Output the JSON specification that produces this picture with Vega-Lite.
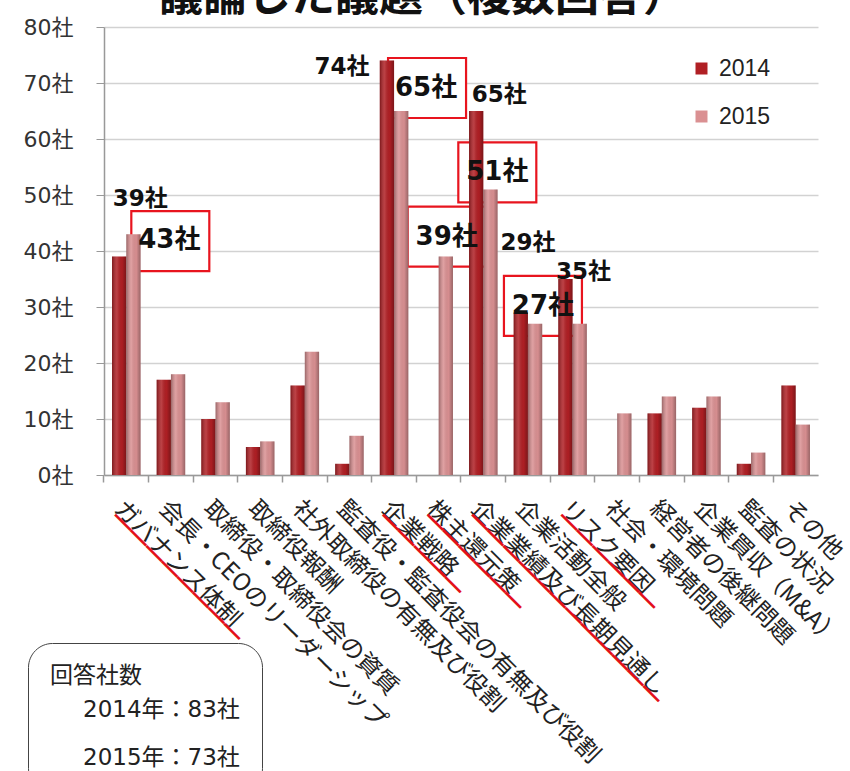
{
  "$schema": "https://vega.github.io/schema/vega-lite/v6.json",
  "autosize": "none",
  "width": 714,
  "height": 448,
  "padding": {"left": 104, "top": 27, "right": 32, "bottom": 296},
  "background": "white",
  "title": {"text": "議論した議題（複数回答）", "fontSize": 44, "font": "Noto Sans CJK JP", "fontWeight": "bold", "color": "#111", "anchor": "middle", "dx": -38, "offset": -4},
  "data": {"values": [
    {"topic": "ガバナンス体制", "year": "2014", "count": 39},
    {"topic": "ガバナンス体制", "year": "2015", "count": 43},
    {"topic": "会長・CEOのリーダーシップ", "year": "2014", "count": 17},
    {"topic": "会長・CEOのリーダーシップ", "year": "2015", "count": 18},
    {"topic": "取締役・取締役会の資質", "year": "2014", "count": 10},
    {"topic": "取締役・取締役会の資質", "year": "2015", "count": 13},
    {"topic": "取締役報酬", "year": "2014", "count": 5},
    {"topic": "取締役報酬", "year": "2015", "count": 6},
    {"topic": "社外取締役の有無及び役割", "year": "2014", "count": 16},
    {"topic": "社外取締役の有無及び役割", "year": "2015", "count": 22},
    {"topic": "監査役・監査役会の有無及び役割", "year": "2014", "count": 2},
    {"topic": "監査役・監査役会の有無及び役割", "year": "2015", "count": 7},
    {"topic": "企業戦略", "year": "2014", "count": 74},
    {"topic": "企業戦略", "year": "2015", "count": 65},
    {"topic": "株主還元策", "year": "2014", "count": null},
    {"topic": "株主還元策", "year": "2015", "count": 39},
    {"topic": "企業業績及び長期見通し", "year": "2014", "count": 65},
    {"topic": "企業業績及び長期見通し", "year": "2015", "count": 51},
    {"topic": "企業活動全般", "year": "2014", "count": 29},
    {"topic": "企業活動全般", "year": "2015", "count": 27},
    {"topic": "リスク要因", "year": "2014", "count": 35},
    {"topic": "リスク要因", "year": "2015", "count": 27},
    {"topic": "社会・環境問題", "year": "2014", "count": null},
    {"topic": "社会・環境問題", "year": "2015", "count": 11},
    {"topic": "経営者の後継問題", "year": "2014", "count": 11},
    {"topic": "経営者の後継問題", "year": "2015", "count": 14},
    {"topic": "企業買収（M&A）", "year": "2014", "count": 12},
    {"topic": "企業買収（M&A）", "year": "2015", "count": 14},
    {"topic": "監査の状況", "year": "2014", "count": 2},
    {"topic": "監査の状況", "year": "2015", "count": 4},
    {"topic": "その他", "year": "2014", "count": 16},
    {"topic": "その他", "year": "2015", "count": 9}
  ]},
  "resolve": {"axis": {"x": "independent"}},
  "layer": [
    {
      "transform": [{"filter": "datum.topic == 'ガバナンス体制' && datum.year == '2015'"}],
      "mark": {"type": "point", "shape": "M-1.3,-1H1.3V1H-1.3Z", "size": 3600, "filled": true, "fill": "white", "fillOpacity": 1, "opacity": 1, "stroke": "#e8141e", "strokeWidth": 2.2, "xOffset": 44, "yOffset": 7},
      "encoding": {"x": {"field": "topic", "type": "nominal", "axis": null}, "y": {"field": "count", "type": "quantitative"}}
    },
    {
      "transform": [{"filter": "datum.topic == '企業戦略' && datum.year == '2015'"}],
      "mark": {"type": "point", "shape": "M-1.3,-1H1.3V1H-1.3Z", "size": 3600, "filled": true, "fill": "white", "fillOpacity": 1, "opacity": 1, "stroke": "#e8141e", "strokeWidth": 2.2, "xOffset": 33, "yOffset": -23},
      "encoding": {"x": {"field": "topic", "type": "nominal", "axis": null}, "y": {"field": "count", "type": "quantitative"}}
    },
    {
      "transform": [{"filter": "datum.topic == '企業業績及び長期見通し' && datum.year == '2015'"}],
      "mark": {"type": "point", "shape": "M-1.3,-1H1.3V1H-1.3Z", "size": 3600, "filled": true, "fill": "white", "fillOpacity": 1, "opacity": 1, "stroke": "#e8141e", "strokeWidth": 2.2, "xOffset": 14, "yOffset": -17},
      "encoding": {"x": {"field": "topic", "type": "nominal", "axis": null}, "y": {"field": "count", "type": "quantitative"}}
    },
    {
      "transform": [{"filter": "datum.topic == '株主還元策' && datum.year == '2015'"}],
      "mark": {"type": "point", "shape": "M-1.3,-1H1.3V1H-1.3Z", "size": 3600, "filled": true, "fill": "white", "fillOpacity": 1, "opacity": 1, "stroke": "#e8141e", "strokeWidth": 2.2, "xOffset": 8, "yOffset": -20},
      "encoding": {"x": {"field": "topic", "type": "nominal", "axis": null}, "y": {"field": "count", "type": "quantitative"}}
    },
    {
      "transform": [{"filter": "datum.topic == '企業活動全般' && datum.year == '2015'"}],
      "mark": {"type": "point", "shape": "M-1.3,-1H1.3V1H-1.3Z", "size": 3600, "filled": true, "fill": "white", "fillOpacity": 1, "opacity": 1, "stroke": "#e8141e", "strokeWidth": 2.2, "xOffset": 15, "yOffset": -18},
      "encoding": {"x": {"field": "topic", "type": "nominal", "axis": null}, "y": {"field": "count", "type": "quantitative"}}
    },
    {
      "mark": {"type": "bar"},
      "encoding": {
        "x": {"field": "topic", "type": "nominal", "sort": null,
          "scale": {"domain": ["ガバナンス体制", "会長・CEOのリーダーシップ", "取締役・取締役会の資質", "取締役報酬", "社外取締役の有無及び役割", "監査役・監査役会の有無及び役割", "企業戦略", "株主還元策", "企業業績及び長期見通し", "企業活動全般", "リスク要因", "社会・環境問題", "経営者の後継問題", "企業買収（M&A）", "監査の状況", "その他"], "paddingInner": 0.36, "paddingOuter": 0.18},
          "axis": {"orient": "bottom", "title": null, "labelAngle": 45, "labelAlign": "left", "labelBaseline": "top", "labelFont": "Noto Sans CJK JP", "labelFontSize": 24, "labelColor": "#222", "labelLimit": 0, "labelOverlap": false, "labelPadding": 21, "ticks": false, "domain": true, "domainColor": "#999", "domainWidth": 1.5, "grid": false}},
        "xOffset": {"field": "year", "type": "nominal", "scale": {"domain": ["2014", "2015"]}},
        "y": {"field": "count", "type": "quantitative",
          "scale": {"domain": [0, 80], "nice": false},
          "axis": {"title": null, "values": [0, 10, 20, 30, 40, 50, 60, 70, 80], "labelExpr": "datum.value + '社'", "labelFont": "DejaVu Sans, Noto Sans CJK JP", "labelFontSize": 22, "labelColor": "#333", "tickSize": 8, "tickColor": "#999", "domainColor": "#999", "domainWidth": 1.5, "labelPadding": 23, "grid": true, "gridColor": "#d2d2d2", "gridWidth": 1.5}},
        "color": {"field": "year", "type": "nominal",
          "scale": {"domain": ["2014", "2015"], "range": ["#b01f24", "#da9092"]},
          "legend": {"orient": "none", "legendX": 586, "legendY": 30, "title": null, "symbolType": "square", "symbolSize": 144, "symbolStrokeWidth": 0, "labelFont": "Liberation Sans", "labelFontSize": 23, "labelColor": "#222", "rowPadding": 24, "padding": 0, "labelOffset": 6}}
      }
    },
    {
      "mark": {"type": "bar", "fill": {"gradient": "linear", "x1": 0, "x2": 1, "y1": 0, "y2": 0, "stops": [{"offset": 0, "color": "rgba(0,0,0,0.3)"}, {"offset": 0.35, "color": "rgba(255,255,255,0.15)"}, {"offset": 0.7, "color": "rgba(0,0,0,0.02)"}, {"offset": 1, "color": "rgba(0,0,0,0.3)"}]}},
      "encoding": {
        "x": {"field": "topic", "type": "nominal", "sort": null, "axis": {"orient": "bottom", "title": null, "labels": false, "domain": false, "ticks": true, "tickSize": 7, "tickColor": "#999", "tickWidth": 1.5, "bandPosition": -0.28125, "grid": false}},
        "xOffset": {"field": "year", "type": "nominal"},
        "y": {"field": "count", "type": "quantitative"}
      }
    },
    {
      "transform": [{"filter": "datum.topic == 'ガバナンス体制' && datum.year == '2014'"}, {"calculate": "datum.count + '社'", "as": "label"}],
      "mark": {"type": "text", "font": "DejaVu Sans, Noto Sans CJK JP", "fontWeight": "bold", "fontSize": 23, "color": "#111", "dx": 14, "dy": -58},
      "encoding": {
        "x": {"field": "topic", "type": "nominal", "axis": {"orient": "bottom", "title": null, "labelAngle": 45, "labelAlign": "left", "labelBaseline": "top", "labelFont": "Noto Sans CJK JP", "labelFontWeight": "bold", "labelFontSize": 22, "labelColor": "#e3101a", "labelLimit": 0, "labelOverlap": false, "labelPadding": 33, "labelOffset": -5, "ticks": false, "domain": false, "grid": false,
          "labelExpr": "datum.label == 'ガバナンス体制' ? '━━━━━━━━' : datum.label == '企業戦略' ? '━━━━━' : datum.label == '株主還元策' ? '━━━━━━' : datum.label == '企業業績及び長期見通し' ? '━━━━━━━━━━━━' : datum.label == 'リスク要因' ? '━━━━━━' : ''"}},
        "y": {"field": "count", "type": "quantitative"},
        "text": {"field": "label"}
      }
    },
    {
      "transform": [{"filter": "datum.topic == 'ガバナンス体制' && datum.year == '2015'"}, {"calculate": "datum.count + '社'", "as": "label"}],
      "mark": {"type": "text", "font": "DejaVu Sans, Noto Sans CJK JP", "fontWeight": "bold", "fontSize": 26, "color": "#111", "dx": 43, "dy": 6},
      "encoding": {"x": {"field": "topic", "type": "nominal", "axis": null}, "y": {"field": "count", "type": "quantitative"}, "text": {"field": "label"}}
    },
    {
      "transform": [{"filter": "datum.topic == '企業戦略' && datum.year == '2014'"}, {"calculate": "datum.count + '社'", "as": "label"}],
      "mark": {"type": "text", "font": "DejaVu Sans, Noto Sans CJK JP", "fontWeight": "bold", "fontSize": 23, "color": "#111", "dx": -52, "dy": 6},
      "encoding": {"x": {"field": "topic", "type": "nominal", "axis": null}, "y": {"field": "count", "type": "quantitative"}, "text": {"field": "label"}}
    },
    {
      "transform": [{"filter": "datum.topic == '企業戦略' && datum.year == '2015'"}, {"calculate": "datum.count + '社'", "as": "label"}],
      "mark": {"type": "text", "font": "DejaVu Sans, Noto Sans CJK JP", "fontWeight": "bold", "fontSize": 26, "color": "#111", "dx": 32, "dy": -23},
      "encoding": {"x": {"field": "topic", "type": "nominal", "axis": null}, "y": {"field": "count", "type": "quantitative"}, "text": {"field": "label"}}
    },
    {
      "transform": [{"filter": "datum.topic == '企業業績及び長期見通し' && datum.year == '2014'"}, {"calculate": "datum.count + '社'", "as": "label"}],
      "mark": {"type": "text", "font": "DejaVu Sans, Noto Sans CJK JP", "fontWeight": "bold", "fontSize": 23, "color": "#111", "dx": 16, "dy": -16},
      "encoding": {"x": {"field": "topic", "type": "nominal", "axis": null}, "y": {"field": "count", "type": "quantitative"}, "text": {"field": "label"}}
    },
    {
      "transform": [{"filter": "datum.topic == '企業業績及び長期見通し' && datum.year == '2015'"}, {"calculate": "datum.count + '社'", "as": "label"}],
      "mark": {"type": "text", "font": "DejaVu Sans, Noto Sans CJK JP", "fontWeight": "bold", "fontSize": 26, "color": "#111", "dx": 14, "dy": -17},
      "encoding": {"x": {"field": "topic", "type": "nominal", "axis": null}, "y": {"field": "count", "type": "quantitative"}, "text": {"field": "label"}}
    },
    {
      "transform": [{"filter": "datum.topic == '株主還元策' && datum.year == '2015'"}, {"calculate": "datum.count + '社'", "as": "label"}],
      "mark": {"type": "text", "font": "DejaVu Sans, Noto Sans CJK JP", "fontWeight": "bold", "fontSize": 26, "color": "#111", "dx": 8, "dy": -20},
      "encoding": {"x": {"field": "topic", "type": "nominal", "axis": null}, "y": {"field": "count", "type": "quantitative"}, "text": {"field": "label"}}
    },
    {
      "transform": [{"filter": "datum.topic == '企業活動全般' && datum.year == '2014'"}, {"calculate": "datum.count + '社'", "as": "label"}],
      "mark": {"type": "text", "font": "DejaVu Sans, Noto Sans CJK JP", "fontWeight": "bold", "fontSize": 23, "color": "#111", "dx": 0, "dy": -70},
      "encoding": {"x": {"field": "topic", "type": "nominal", "axis": null}, "y": {"field": "count", "type": "quantitative"}, "text": {"field": "label"}}
    },
    {
      "transform": [{"filter": "datum.topic == '企業活動全般' && datum.year == '2015'"}, {"calculate": "datum.count + '社'", "as": "label"}],
      "mark": {"type": "text", "font": "DejaVu Sans, Noto Sans CJK JP", "fontWeight": "bold", "fontSize": 26, "color": "#111", "dx": 15, "dy": -18},
      "encoding": {"x": {"field": "topic", "type": "nominal", "axis": null}, "y": {"field": "count", "type": "quantitative"}, "text": {"field": "label"}}
    },
    {
      "transform": [{"filter": "datum.topic == 'リスク要因' && datum.year == '2014'"}, {"calculate": "datum.count + '社'", "as": "label"}],
      "mark": {"type": "text", "font": "DejaVu Sans, Noto Sans CJK JP", "fontWeight": "bold", "fontSize": 23, "color": "#111", "dx": 11, "dy": -7},
      "encoding": {"x": {"field": "topic", "type": "nominal", "axis": null}, "y": {"field": "count", "type": "quantitative"}, "text": {"field": "label"}}
    },
    {
      "data": {"values": [{"note": "2014年：83社"}, {"note": "2015年：73社"}]},
      "mark": {"type": "point", "opacity": 0, "size": 0},
      "encoding": {
        "shape": {"field": "note", "type": "nominal", "scale": {"domain": ["2014年：83社", "2015年：73社"]},
          "legend": {"orient": "none", "legendX": -76, "legendY": 616, "title": "回答社数", "titleFont": "Noto Sans CJK JP", "titleFontSize": 23, "titleFontWeight": "normal", "titleColor": "#222", "titlePadding": 10, "labelFont": "DejaVu Sans, Noto Sans CJK JP", "labelFontSize": 23, "labelColor": "#222", "labelLimit": 400, "labelExpr": "datum.label + '\u3000\u3000'", "symbolOpacity": 0, "symbolStrokeWidth": 0, "symbolSize": 64, "symbolOffset": 0, "labelOffset": 10, "rowPadding": 24, "padding": 22, "cornerRadius": 24, "strokeColor": "#444"}}
      }
    }
  ],
  "config": {"view": {"stroke": null}}
}
